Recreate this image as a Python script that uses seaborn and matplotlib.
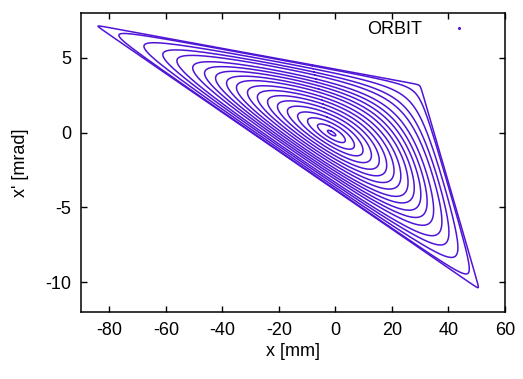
import numpy as np
import pandas as pd
import matplotlib
matplotlib.use("Agg")
import matplotlib.pyplot as plt
from matplotlib.lines import Line2D
import seaborn as sns

# ---- data ----
# corners of the outermost (separatrix-like) orbit, x [mm], x' [mrad]
corner_x = [-85.0, 30.0, 51.0]
corner_xp = [7.2, 3.2, -10.5]
# left-most tip (x in mm) of each closed orbit, outermost first
ring_tip_x = [-84.0, -76.6, -67.7, -61.0, -56.0, -50.4, -46.2, -42.3, -38.4,
              -34.9, -31.0, -27.5, -23.9, -20.4, -16.9, -13.3, -9.8, -6.3, -2.8]
legend_label = "ORBIT"
x_ticks = [-80, -60, -40, -20, 0, 20, 40, 60]
y_ticks = [-10, -5, 0, 5]

# ---- build orbits as level curves of a cubic (third-order resonance) invariant ----
A = np.array([corner_x[0], corner_xp[0]])
B = np.array([corner_x[1], corner_xp[1]])
C = np.array([corner_x[2], corner_xp[2]])
G = (A + B + C) / 3.0
col2 = A - G
col1 = ((B - G) + 0.5 * col2) / (np.sqrt(3) / 2)
M = np.column_stack([col1, col2])

theta = np.linspace(0, 2 * np.pi, 3001)
k = np.sin(3 * theta)

rows = []
for i, tip in enumerate(ring_tip_x):
    s = (G[0] - tip) / (G[0] - A[0])
    s = min(s, 0.995)
    h = 0.5 * s**2 - s**3 / 3.0
    lo = np.zeros_like(theta)
    hi = np.where(k >= 0, np.sqrt(2 * h), np.minimum(-1.0 / np.where(k < 0, k, -1), 1e3))
    for _ in range(80):
        mid = 0.5 * (lo + hi)
        f = 0.5 * mid**2 + (k / 3.0) * mid**3
        above = f > h
        hi = np.where(above, mid, hi)
        lo = np.where(above, lo, mid)
    r = 0.5 * (lo + hi)
    uv = np.vstack([r * np.cos(theta), r * np.sin(theta)])
    xy = M @ uv + G[:, None]
    rows.append(pd.DataFrame({"x": xy[0], "xp": xy[1], "ring": i,
                              "order": np.arange(len(theta))}))
df = pd.concat(rows, ignore_index=True)

# ---- plot ----
sns.set_theme(style="ticks")
plt.rcParams["font.family"] = ["Liberation Sans", "DejaVu Sans"]
plt.rcParams["text.color"] = "black"
plt.rcParams["axes.labelcolor"] = "black"
color = "#4f14d6"

fig = plt.figure(figsize=(5.23, 3.79), dpi=100)
ax = fig.add_axes([0.155, 0.1768, 0.8106, 0.7889])
sns.lineplot(data=df, x="x", y="xp", units="ring", estimator=None, sort=False,
             color=color, lw=1.1, legend=False, ax=ax)

ax.set_xlim(-90, 60)
ax.set_ylim(-12, 8)
ax.set_xticks(x_ticks)
ax.set_yticks(y_ticks)
ax.set_xticklabels([str(t) for t in x_ticks])
ax.set_yticklabels([str(t) for t in y_ticks])
ax.tick_params(direction="in", length=4.5, width=1, top=True, right=True,
               labelsize=13, pad=7, colors="black")
for sp in ax.spines.values():
    sp.set_visible(True)
    sp.set_linewidth(1.1)
    sp.set_color("black")
ax.set_xlabel("x [mm]", fontsize=13, labelpad=3, color="black")
ax.set_ylabel("x' [mrad]", fontsize=13, labelpad=12, color="black")

handle = Line2D([], [], marker="o", markersize=1.2, linestyle="none", color=color)
leg = ax.legend([handle], [legend_label], loc="upper right", bbox_to_anchor=(0.962, 0.996),
                borderaxespad=0, frameon=False, markerfirst=False, handlelength=2.5,
                handletextpad=0.8, fontsize=13)
for t in leg.get_texts():
    t.set_color("black")

fig.savefig("out.png", dpi=100)
